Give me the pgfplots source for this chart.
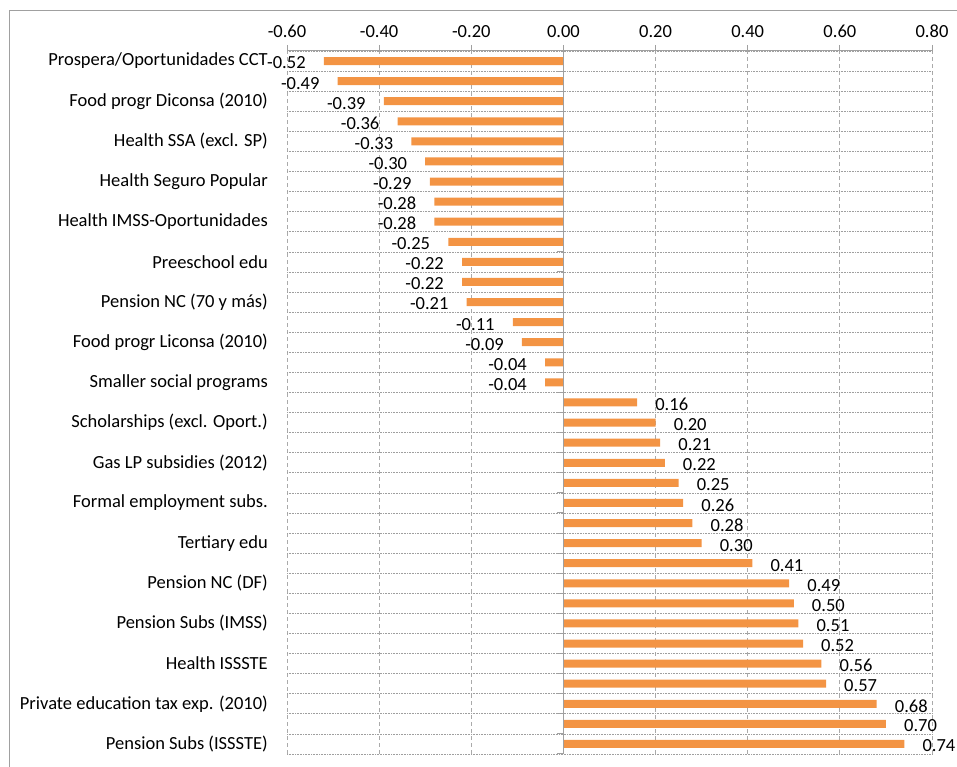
\documentclass[border=0pt]{standalone}
\usepackage{pgfplots}
\pgfplotsset{compat=1.18}
\usepackage{fontspec}
\setmainfont{Carlito}
\definecolor{barorange}{RGB}{243,148,68}
\definecolor{gridgray}{RGB}{170,170,170}
\definecolor{axgray}{RGB}{160,160,160}
\begin{document}
\begin{tikzpicture}[x=1pt,y=1pt]
\useasboundingbox (0,0) rectangle (957,767);
\draw[axgray, line width=1pt] (9,0) -- (9,756) -- (957,756);
\begin{axis}[
  at={(287pt,13pt)}, anchor=south west,
  scale only axis, width=645pt, height=703pt,
  xmin=-0.6, xmax=0.8, ymin=0.5, ymax=35.5,
  xbar, bar width=8pt,
  axis x line*=top, axis y line*=left,
  y axis line style={draw=none},
  x axis line style={axgray, line width=1pt},
  xtick={-0.6,-0.4,-0.2,0,0.2,0.4,0.6,0.8},
  xtick align=outside, major tick length=6pt,
  xtick style={axgray, line width=1pt},
  ytick style={draw=none}, minor tick length=0pt,
  ytick={1,3,...,35},
  yticklabels={{Pension Subs (ISSSTE)},{Private education tax exp. (2010)},{Health ISSSTE},{Pension Subs  (IMSS)},{Pension NC (DF)},{Tertiary edu},{Formal employment subs.},{Gas LP subsidies (2012)},{Scholarships (excl. Oport.)},{Smaller social programs},{Food progr Liconsa (2010)},{Pension NC (70 y más)},{Preeschool edu},{Health IMSS-Oportunidades},{Health Seguro Popular},{Health SSA (excl. SP)},{Food progr Diconsa (2010)},{Prospera/Oportunidades CCT}},
  minor ytick={0.5,1.5,...,35.5},
  xmajorgrids=true, ymajorgrids=false, yminorgrids=true,
  major x grid style={gridgray, dash pattern=on 4pt off 3pt, line width=0.9pt},
  minor y grid style={gray!75, dash pattern=on 0.8pt off 0.8pt, line width=0.7pt},
  tick label style={font=\fontsize{18.5}{22}\selectfont, text=black},
  yticklabel style={inner sep=0pt, xshift=-13pt},
  xticklabel style={inner sep=0pt, yshift=7pt},
  /pgf/number format/fixed, /pgf/number format/fixed zerofill,
  /pgf/number format/precision=2, /pgf/number format/assume math mode=true,
  nodes near coords, nodes near coords align=horizontal,
  every node near coord/.append style={font=\fontsize{18.5}{22}\selectfont, text=black, inner xsep=18pt, inner ysep=0pt, yshift=-2pt},
]
\addplot[fill=barorange, draw=none] coordinates {
(-0.52,35) (-0.49,34) (-0.39,33) (-0.36,32) (-0.33,31) (-0.30,30) (-0.29,29) (-0.28,28) (-0.28,27) (-0.25,26) (-0.22,25) (-0.22,24) (-0.21,23) (-0.11,22) (-0.09,21) (-0.04,20) (-0.04,19) (0.16,18) (0.20,17) (0.21,16) (0.22,15) (0.25,14) (0.26,13) (0.28,12) (0.30,11) (0.41,10) (0.49,9) (0.50,8) (0.51,7) (0.52,6) (0.56,5) (0.57,4) (0.68,3) (0.70,2) (0.74,1)
};
\draw[axgray, line width=1.5pt] (axis cs:0,0.5) -- (axis cs:0,35.5);
\pgfplotsinvokeforeach{0.5,1.5,...,34.5}{\draw[axgray, line width=1pt] (axis cs:0,#1) -- ++(-6pt,0pt);}
\end{axis}
\end{tikzpicture}
\end{document}
